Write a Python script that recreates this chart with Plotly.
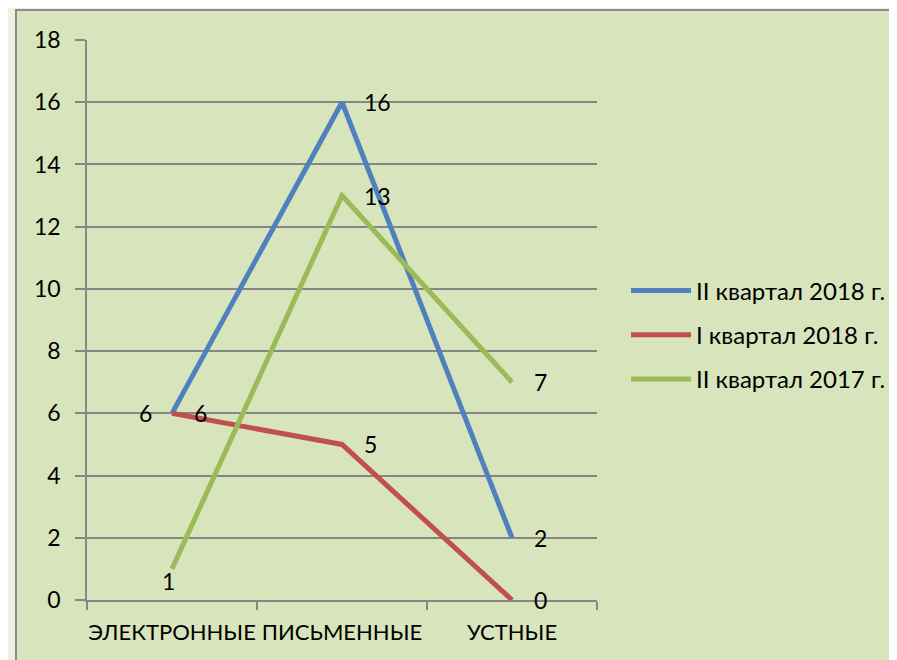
import plotly.graph_objects as go

categories = ["ЭЛЕКТРОННЫЕ", "ПИСЬМЕННЫЕ", "УСТНЫЕ"]
series_names = ["II квартал 2018 г.", "I квартал 2018 г.", "II квартал 2017 г."]
q2_2018 = [6, 16, 2]
q1_2018 = [6, 5, 0]
q2_2017 = [1, 13, 7]
y_ticks = [0, 2, 4, 6, 8, 10, 12, 14, 16, 18]

colors = ["#4f81bd", "#c0504d", "#9bbb59"]
# label placement per point: "r" right, "l" left, "b" below
placements = [["l", "r", "r"], ["r", "r", "r"], ["b", "r", "r"]]

FONT = "Lato, Calibri, sans-serif"
FS = 23

fig = go.Figure()
all_series = [q2_2018, q1_2018, q2_2017]
for name, vals, col in zip(series_names, all_series, colors):
    fig.add_trace(go.Scatter(
        x=categories, y=vals, mode="lines", name=name,
        line=dict(color=col, width=5), legendgroup=name,
    ))

annotations = []
for vals, pl in zip(all_series, placements):
    for cat, v, p in zip(categories, vals, pl):
        if p == "r":
            a = dict(xanchor="left", yanchor="middle", xshift=20, yshift=0)
        elif p == "l":
            a = dict(xanchor="right", yanchor="middle", xshift=-18, yshift=0)
        else:
            a = dict(xanchor="center", yanchor="middle", xshift=-4, yshift=-12)
        annotations.append(dict(x=cat, y=v, xref="x", yref="y", text=str(v),
                                showarrow=False, font=dict(family=FONT, size=FS, color="#000"), **a))

W, H = 889, 652
L, T, PW, PH = 79, 32, 510, 560
fig.update_layout(
    width=W, height=H,
    margin=dict(l=L, r=W - L - PW, t=T, b=H - T - PH, autoexpand=False),
    paper_bgcolor="#eef0e0",
    plot_bgcolor="rgba(0,0,0,0)",
    font=dict(family=FONT, size=FS, color="#000"),
    annotations=annotations,
    shapes=[dict(type="rect", xref="paper", yref="paper",
                 x0=-(87 - 16) / PW, x1=1.8, y0=-0.3, y1=1 + (40 - 10) / PH,
                 fillcolor="#d8e4bc", line=dict(color="#8c8c8c", width=2), layer="below")],
    showlegend=True,
    legend=dict(xref="container", yref="container", x=(626 - 8) / W, y=1 - (335 - 8) / H,
                xanchor="left", yanchor="middle",
                bgcolor="rgba(0,0,0,0)", traceorder="grouped", tracegroupgap=10,
                itemwidth=60,
                font=dict(family=FONT, size=24)),
    xaxis=dict(type="category", range=[-0.5, 2.5], showgrid=False, tickson="boundaries",
               ticks="outside", ticklen=8, tickwidth=1.5, tickcolor="#868686",
               showline=True, linecolor="#868686", linewidth=1.5, tickangle=0, automargin=False,
               tickfont=dict(family=FONT, size=22),
               ticklabelstandoff=12, fixedrange=True),
    yaxis=dict(range=[0, 18], tickvals=y_ticks, ticks="outside", ticklen=10, tickwidth=1.5,
               tickcolor="#868686", showgrid=True, gridcolor="#868686", gridwidth=1.5,
               showline=True, linecolor="#868686", linewidth=1.5, zeroline=False, automargin=False,
               ticklabelstandoff=10, fixedrange=True),
)

fig.write_html("out.html")
